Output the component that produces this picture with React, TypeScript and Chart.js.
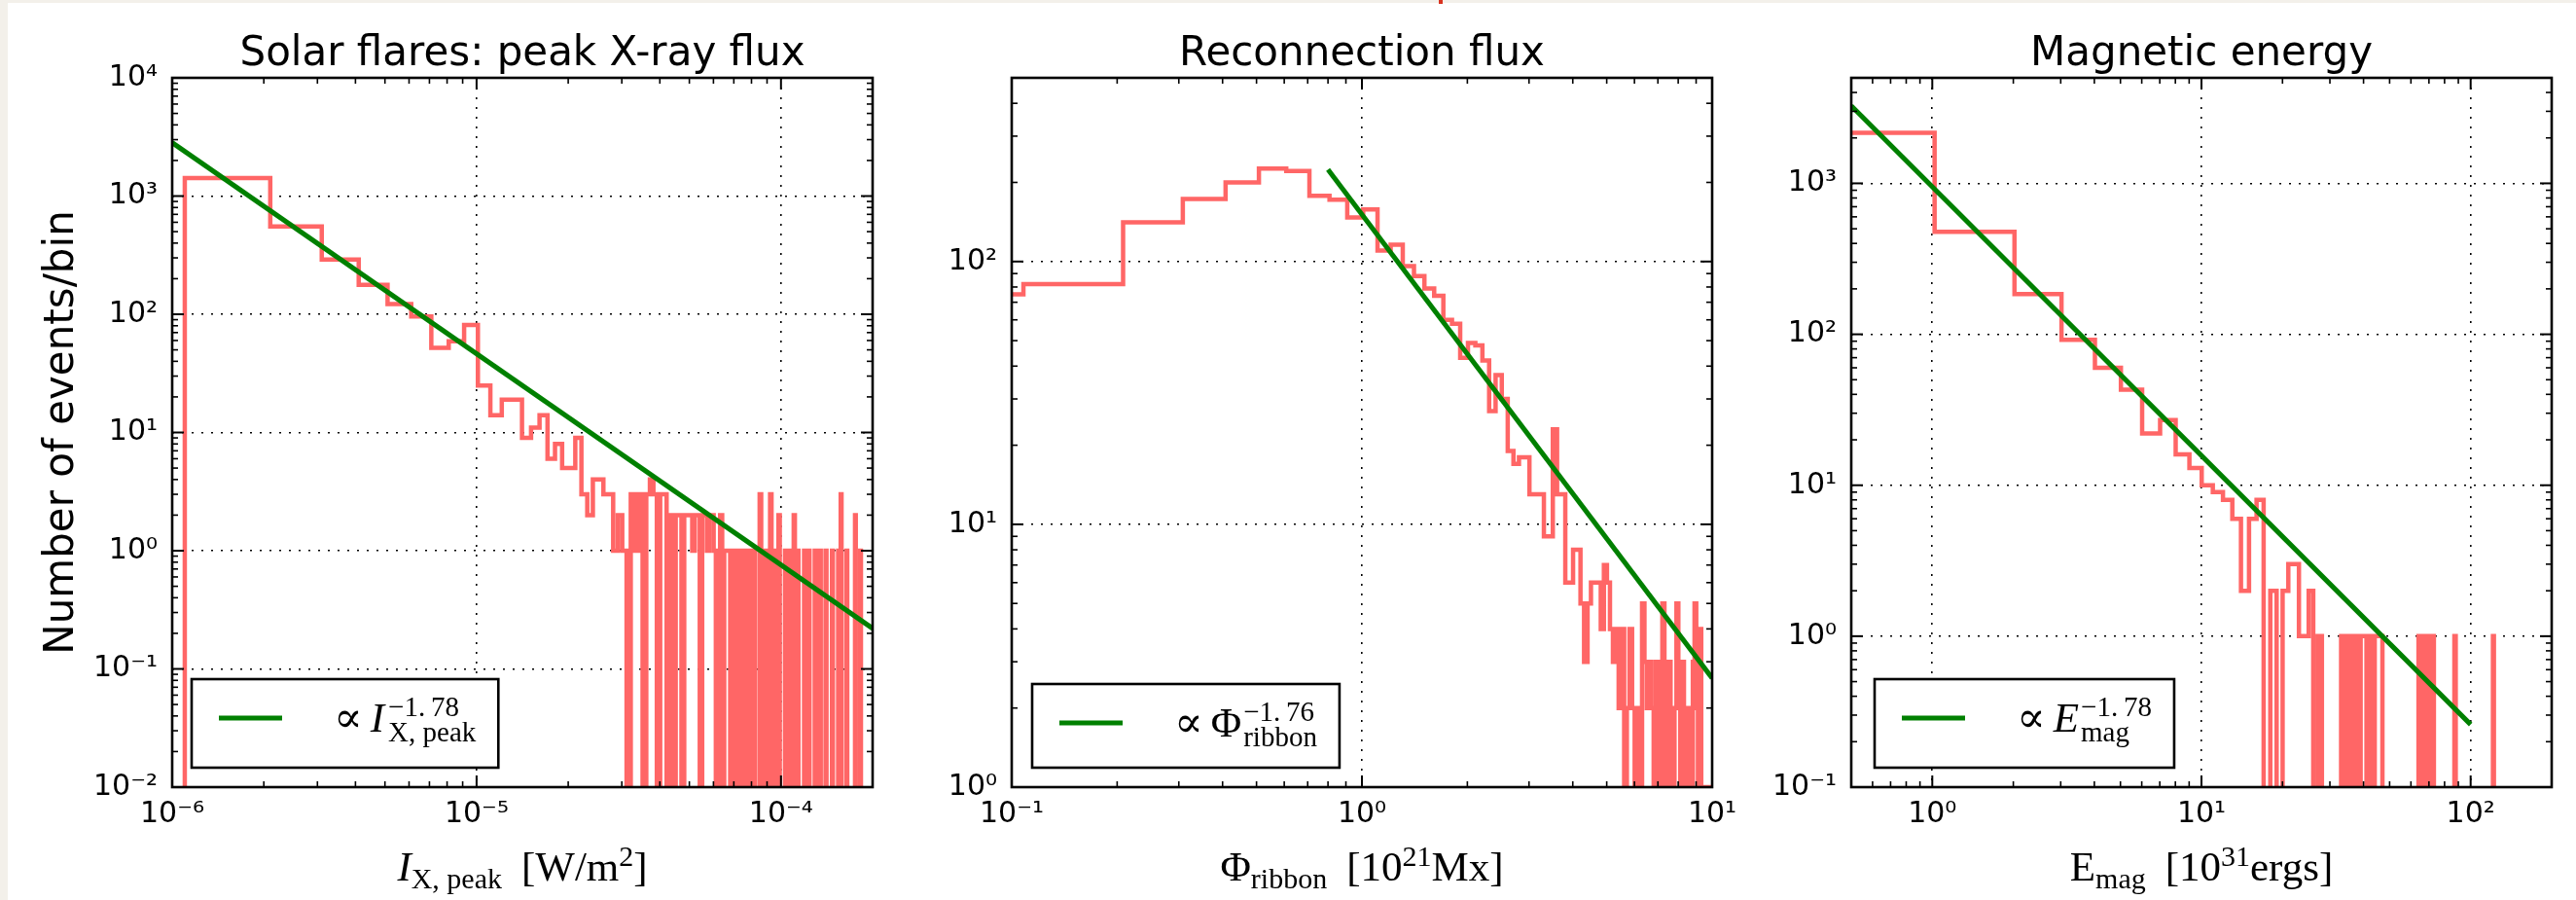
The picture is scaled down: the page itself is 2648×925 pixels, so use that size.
import React, { useEffect, useRef } from 'react';
import { Chart, registerables } from 'chart.js';

Chart.register(...registerables);

const SANS = "'DejaVu Sans', sans-serif";
const SERIF = "'Liberation Serif', 'DejaVu Serif', serif";
const RED = '#ff6666';
const GREEN = '#008000';
const BEIGE = '#f3f0ea';

// ---------------- Panel 1: peak X-ray flux ----------------
const P1_TITLE = 'Solar flares: peak X-ray flux';
const P1_X_RANGE = [1e-6, 2e-4];
const P1_Y_RANGE = [1e-2, 1e4];
const P1_X_TICKS = [1e-6, 1e-5, 1e-4];
const P1_Y_TICKS = [1e-2, 1e-1, 1e0, 1e1, 1e2, 1e3, 1e4];
const P1_BIN_START = 1.1e-6;
const P1_BIN_WIDTH = 1e-6;
const P1_COUNTS = [
  1420, 553, 291, 177, 122, 96, 52, 59, 81, 25,
  14, 19, 19, 9, 11, 14, 6, 8, 5, 5,
  9, 3, 2, 4, 4, 3, 3, 1, 2, 1,
  0, 3, 1, 3, 0, 3, 4, 3, 0, 3,
  3, 0, 2, 0, 2, 2, 0, 2, 2, 2,
  1, 2, 2, 0, 2, 2, 1, 2, 2, 1,
  0, 1, 2, 0, 1, 1, 1, 0, 1, 0,
  1, 0, 1, 0, 0, 1, 0, 1, 0, 0,
  1, 0, 0, 0, 3, 0, 0, 1, 0, 0,
  0, 3, 0, 1, 0, 0, 0, 2, 0, 0,
  0, 0, 1, 0, 0, 1, 0, 0, 0, 2,
  0, 0, 1, 0, 0, 0, 0, 0, 1, 0,
  0, 0, 1, 0, 0, 0, 0, 0, 1, 0,
  0, 0, 0, 1, 0, 0, 0, 0, 0, 1,
  0, 0, 0, 0, 0, 0, 1, 0, 0, 0,
  0, 0, 0, 1, 0, 0, 3, 0, 0, 0,
  0, 0, 0, 1, 0, 0, 0, 0, 0, 0,
  0, 0, 0, 0, 2, 0, 0, 0, 0, 0,
  0, 1,
];
const P1_FIT_X = [1e-6, 2e-4];
const P1_FIT_Y = [2830, 0.22];

// ---------------- Panel 2: reconnection flux ----------------
const P2_TITLE = 'Reconnection flux';
const P2_X_RANGE = [0.1, 10];
const P2_Y_RANGE = [1, 500];
const P2_X_TICKS = [0.1, 1, 10];
const P2_Y_TICKS = [1, 10, 100];
const P2_BIN_START = 0.008;
const P2_BIN_WIDTH = 0.1;
const P2_COUNTS = [
  75, 82, 141, 173, 200, 226, 221, 178, 172, 147,
  158, 110, 116, 96, 88, 79, 74, 60, 58, 43,
  49, 48, 42, 27, 37, 30, 19, 17, 18, 18,
  13, 13, 13, 9, 9, 23, 13, 13, 6, 6,
  8, 8, 5, 3, 5, 6, 6, 6, 4, 7,
  6, 4, 3, 4, 2, 4, 0, 2, 4, 2,
  0, 2, 0, 5, 3, 2, 3, 2, 0, 3,
  2, 0, 5, 2, 0, 3, 2, 0, 2, 5,
  2, 0, 3, 2, 0, 2, 1, 0, 3, 5,
  2, 0, 4, 1, 1, 0, 1, 1, 0, 1,
];
const P2_FIT_X = [0.8, 10];
const P2_FIT_Y = [224, 2.6];

// ---------------- Panel 3: magnetic energy ----------------
const P3_TITLE = 'Magnetic energy';
const P3_X_RANGE = [0.5, 200];
const P3_Y_RANGE = [0.1, 5000];
const P3_X_TICKS = [1, 10, 100];
const P3_Y_TICKS = [0.1, 1, 10, 100, 1000];
const P3_BIN_START = 0.02;
const P3_BIN_WIDTH = 1;
const P3_COUNTS = [
  2158, 478, 185, 92, 60, 43, 22, 27, 16, 13,
  10, 9, 8, 6, 2, 6, 8, 0, 2, 0,
  2, 3, 3, 1, 1, 2, 0, 1, 0, 0,
  0, 0, 0, 1, 0, 1, 0, 1, 0, 1,
  1, 0, 1, 0, 1, 1, 1, 0, 0, 0,
  0, 0, 0, 0, 0, 0, 0, 0, 0, 0,
  0, 0, 0, 0, 1, 0, 1, 1, 0, 1,
  1, 0, 1, 0, 0, 0, 0, 0, 0, 0,
  0, 0, 0, 0, 0, 0, 0, 1, 0, 0,
  0, 0, 0, 0, 0, 0, 0, 0, 0, 0,
  0, 0, 0, 0, 0, 0, 0, 0, 0, 0,
  0, 0, 0, 0, 0, 0, 0, 0, 0, 0,
  0, 1,
];
const P3_FIT_X = [0.5, 100];
const P3_FIT_Y = [3266, 0.26];

// ---------------- helpers ----------------
const SUP: Record<string, string> = {
  '0': '⁰', '1': '¹', '2': '²', '3': '³', '4': '⁴', '5': '⁵', '6': '⁶', '7': '⁷', '8': '⁸', '9': '⁹', '-': '⁻',
};
function powLabel(v: number) {
  const e = Math.round(Math.log10(v));
  return '10' + String(e).split('').map((c) => SUP[c]).join('');
}
function isIn(v: number, list: number[]) {
  return list.some((t) => Math.abs(t - v) <= Math.abs(t) * 1e-6);
}
function logTicks(min: number, max: number) {
  const out: any[] = [];
  const d0 = Math.floor(Math.log10(min)) - 1;
  const d1 = Math.ceil(Math.log10(max)) + 1;
  for (let d = d0; d <= d1; d++) {
    for (let m = 1; m <= 9; m++) {
      const v = m * Math.pow(10, d);
      if (v < min * (1 - 1e-9) || v > max * (1 + 1e-9)) continue;
      out.push({ value: v, major: m === 1 });
    }
  }
  return out;
}
function histPoints(start: number, width: number, counts: number[], floor: number) {
  const pts: any[] = [{ x: start, y: floor }];
  for (let i = 0; i < counts.length; i++) {
    pts.push({ x: start + i * width, y: counts[i] > 0 ? counts[i] : floor });
  }
  const end = start + counts.length * width;
  const last = counts[counts.length - 1];
  pts.push({ x: end, y: last > 0 ? last : floor });
  pts.push({ x: end, y: floor });
  return pts;
}

function segFont(s: any) {
  return `${s.i ? 'italic ' : ''}${s.s}px ${s.f ? s.f : SERIF}`;
}
function segWidth(ctx: CanvasRenderingContext2D, seg: any): number {
  if (seg.stack) return Math.max(...seg.stack.map((x: any) => segWidth(ctx, x))) + (seg.gap || 0);
  ctx.font = segFont(seg);
  return ctx.measureText(seg.t).width + (seg.gap || 0);
}
function drawMath(ctx: CanvasRenderingContext2D, segs: any[], x: number, y: number, align: string) {
  const total = segs.reduce((a, s) => a + segWidth(ctx, s), 0);
  let cx = align === 'center' ? x - total / 2 : x;
  ctx.textAlign = 'left';
  ctx.textBaseline = 'alphabetic';
  for (const seg of segs) {
    const w = segWidth(ctx, seg);
    const parts = seg.stack ? seg.stack : [seg];
    for (const p of parts) {
      ctx.font = segFont(p);
      ctx.fillText(p.t, cx + (p.dx || 0), y + (p.dy || 0));
    }
    cx += w;
  }
  return total;
}

const PROP = { t: '∝', s: 44, f: "'DejaVu Serif', serif", gap: 8 };

// ---------------- panel configs (layout & style) ----------------
const PANELS = [
  {
    title: P1_TITLE, xRange: P1_X_RANGE, yRange: P1_Y_RANGE, xTicks: P1_X_TICKS, yTicks: P1_Y_TICKS,
    hist: histPoints(P1_BIN_START, P1_BIN_WIDTH, P1_COUNTS, 1e-9),
    fit: P1_FIT_X.map((x, i) => ({ x, y: P1_FIT_Y[i] })),
    left: 177, right: 897,
    yTitle: 'Number of events/bin',
    xTitle: [
      { t: 'I', s: 43, i: true },
      { t: 'X, peak', s: 30, dy: 8, gap: 20 },
      { t: '[W/m', s: 43 },
      { t: '2', s: 30, dy: -15 },
      { t: ']', s: 43 },
    ],
    legend: {
      dx: 20, h: 91,
      segs: [
        PROP,
        { t: 'I', s: 43, i: true, gap: 4 },
        { stack: [{ t: '−1.\u200978', s: 29, dy: -16 }, { t: 'X, peak', s: 29, dy: 10 }] },
      ],
    },
  },
  {
    title: P2_TITLE, xRange: P2_X_RANGE, yRange: P2_Y_RANGE, xTicks: P2_X_TICKS, yTicks: P2_Y_TICKS,
    hist: histPoints(P2_BIN_START, P2_BIN_WIDTH, P2_COUNTS, 1e-6),
    fit: P2_FIT_X.map((x, i) => ({ x, y: P2_FIT_Y[i] })),
    left: 1040, right: 1760,
    yTitle: '',
    xTitle: [
      { t: 'Φ', s: 43 },
      { t: 'ribbon', s: 30, dy: 8, gap: 20 },
      { t: '[10', s: 43 },
      { t: '21', s: 30, dy: -15 },
      { t: 'Mx]', s: 43 },
    ],
    legend: {
      dx: 21, h: 86,
      segs: [
        PROP,
        { t: 'Φ', s: 43, gap: 2 },
        { stack: [{ t: '−1.\u200976', s: 29, dy: -16 }, { t: 'ribbon', s: 29, dy: 10 }] },
      ],
    },
  },
  {
    title: P3_TITLE, xRange: P3_X_RANGE, yRange: P3_Y_RANGE, xTicks: P3_X_TICKS, yTicks: P3_Y_TICKS,
    hist: histPoints(P3_BIN_START, P3_BIN_WIDTH, P3_COUNTS, 1e-6),
    fit: P3_FIT_X.map((x, i) => ({ x, y: P3_FIT_Y[i] })),
    left: 1903, right: 2623,
    yTitle: '',
    xTitle: [
      { t: 'E', s: 43 },
      { t: 'mag', s: 30, dy: 8, gap: 20 },
      { t: '[10', s: 43 },
      { t: '31', s: 30, dy: -15 },
      { t: 'ergs]', s: 43 },
    ],
    legend: {
      dx: 24, h: 91,
      segs: [
        PROP,
        { t: 'E', s: 43, i: true, gap: 2 },
        { stack: [{ t: '−1.\u200978', s: 29, dy: -16 }, { t: 'mag', s: 29, dy: 10 }] },
      ],
    },
  },
];

const PAGE_W = 2648;
const PAGE_H = 925;
const PLOT_TOP = 80;
const PLOT_BOTTOM = 809;
const Y_AXIS_W = 90;
const X_AXIS_H = 60;

function makeDecor(cfg: any) {
  return {
    id: 'decor',
    afterDraw(chart: any) {
      const ctx: CanvasRenderingContext2D = chart.ctx;
      const a = chart.chartArea;
      const xs = chart.scales.x;
      const ys = chart.scales.y;
      ctx.save();
      ctx.strokeStyle = '#000';
      ctx.lineCap = 'butt';
      const seg = (x1: number, y1: number, x2: number, y2: number) => {
        ctx.beginPath();
        ctx.moveTo(x1, y1);
        ctx.lineTo(x2, y2);
        ctx.stroke();
      };
      // inward ticks
      for (const t of xs.ticks) {
        const px = xs.getPixelForValue(t.value);
        if (px < a.left + 1 || px > a.right - 1) continue;
        const len = t.major ? 12 : 6;
        ctx.lineWidth = t.major ? 2 : 1.6;
        seg(px, a.bottom, px, a.bottom - len);
        seg(px, a.top, px, a.top + len);
      }
      for (const t of ys.ticks) {
        const py = ys.getPixelForValue(t.value);
        if (py < a.top + 1 || py > a.bottom - 1) continue;
        const len = t.major ? 12 : 6;
        ctx.lineWidth = t.major ? 2 : 1.6;
        seg(a.left, py, a.left + len, py);
        seg(a.right, py, a.right - len, py);
      }
      // frame
      ctx.lineWidth = 2.6;
      ctx.strokeRect(a.left, a.top, a.right - a.left, a.bottom - a.top);

      // title
      ctx.fillStyle = '#000';
      ctx.font = `42px ${SANS}`;
      ctx.textAlign = 'center';
      ctx.textBaseline = 'alphabetic';
      ctx.fillText(cfg.title, (a.left + a.right) / 2, 67);

      // y title
      if (cfg.yTitle) {
        ctx.save();
        ctx.translate(75, (a.top + a.bottom) / 2);
        ctx.rotate(-Math.PI / 2);
        ctx.font = `42px ${SANS}`;
        ctx.textAlign = 'center';
        ctx.textBaseline = 'alphabetic';
        ctx.fillText(cfg.yTitle, 0, 0);
        ctx.restore();
      }

      // x title
      drawMath(ctx, cfg.xTitle, (a.left + a.right) / 2, 905, 'center');

      // legend
      const L = cfg.legend;
      const boxLeft = a.left + L.dx;
      const boxBottom = a.bottom - 20;
      const boxTop = boxBottom - L.h;
      const tw = L.segs.reduce((acc: number, s: any) => acc + segWidth(ctx, s), 0);
      const boxW = 146 + tw + 23;
      ctx.fillStyle = '#fff';
      ctx.fillRect(boxLeft, boxTop, boxW, L.h);
      ctx.strokeStyle = '#000';
      ctx.lineWidth = 2.6;
      ctx.strokeRect(boxLeft, boxTop, boxW, L.h);
      ctx.strokeStyle = GREEN;
      ctx.lineWidth = 5;
      seg(boxLeft + 28, boxTop + 40, boxLeft + 93, boxTop + 40);
      ctx.fillStyle = '#000';
      drawMath(ctx, L.segs, boxLeft + 146, boxTop + 54, 'left');
      ctx.restore();
    },
  };
}

function axisOptions(range: number[], labels: number[], isX: boolean) {
  return {
    type: 'logarithmic',
    min: range[0],
    max: range[1],
    position: isX ? 'bottom' : 'left',
    afterBuildTicks: (scale: any) => {
      scale.ticks = logTicks(range[0], range[1]);
    },
    afterFit: (scale: any) => {
      if (isX) scale.height = X_AXIS_H;
      else scale.width = Y_AXIS_W;
    },
    grid: {
      display: true,
      drawTicks: false,
      drawOnChartArea: true,
      lineWidth: 1.6,
      color: (c: any) => (c.tick && c.tick.major ? '#000' : 'rgba(0,0,0,0)'),
    },
    border: { display: false, dash: [2, 8] },
    ticks: {
      autoSkip: false,
      maxRotation: 0,
      minRotation: 0,
      padding: isX ? 10 : 15,
      color: '#000',
      font: { family: SANS, size: 30 },
      callback: (v: number) => (isIn(v, labels) ? powLabel(v) : ''),
    },
  };
}

function makeChart(canvas: HTMLCanvasElement, cfg: any) {
  return new Chart(canvas, {
    type: 'line',
    data: {
      datasets: [
        {
          data: cfg.fit,
          borderColor: GREEN,
          borderWidth: 5,
          pointRadius: 0,
          fill: false,
          tension: 0,
          clip: 0,
          order: 0,
        },
        {
          data: cfg.hist,
          borderColor: RED,
          borderWidth: 4.5,
          pointRadius: 0,
          fill: false,
          stepped: 'before',
          borderJoinStyle: 'miter',
          clip: 0,
          order: 1,
        },
      ],
    } as any,
    options: {
      animation: false,
      responsive: false,
      maintainAspectRatio: false,
      devicePixelRatio: 1,
      events: [],
      layout: {
        padding: {
          left: cfg.left - Y_AXIS_W,
          right: PAGE_W - cfg.right,
          top: PLOT_TOP,
          bottom: PAGE_H - PLOT_BOTTOM - X_AXIS_H,
        },
      },
      plugins: {
        legend: { display: false },
        tooltip: { enabled: false },
        title: { display: false },
      },
      scales: {
        x: axisOptions(cfg.xRange, cfg.xTicks, true),
        y: axisOptions(cfg.yRange, cfg.yTicks, false),
      },
    } as any,
    plugins: [makeDecor(cfg)],
  });
}

export default function App() {
  const r0 = useRef<HTMLCanvasElement>(null);
  const r1 = useRef<HTMLCanvasElement>(null);
  const r2 = useRef<HTMLCanvasElement>(null);
  const refs = [r0, r1, r2];
  useEffect(() => {
    const charts = PANELS.map((p, i) => makeChart(refs[i].current as HTMLCanvasElement, p));
    return () => charts.forEach((c) => c.destroy());
  }, []);
  return (
    <div style={{ position: 'absolute', left: 0, top: 0, width: PAGE_W, height: PAGE_H, background: BEIGE, overflow: 'hidden' }}>
      <div style={{ position: 'absolute', left: 8, top: 3, right: 0, bottom: 0, background: '#fff' }} />
      <div style={{ position: 'absolute', left: 1479, top: 0, width: 4, height: 4, background: '#d9321f' }} />
      {refs.map((r, i) => (
        <canvas
          key={i}
          ref={r}
          width={PAGE_W}
          height={PAGE_H}
          style={{ position: 'absolute', left: 0, top: 0, width: PAGE_W, height: PAGE_H }}
        />
      ))}
    </div>
  );
}
